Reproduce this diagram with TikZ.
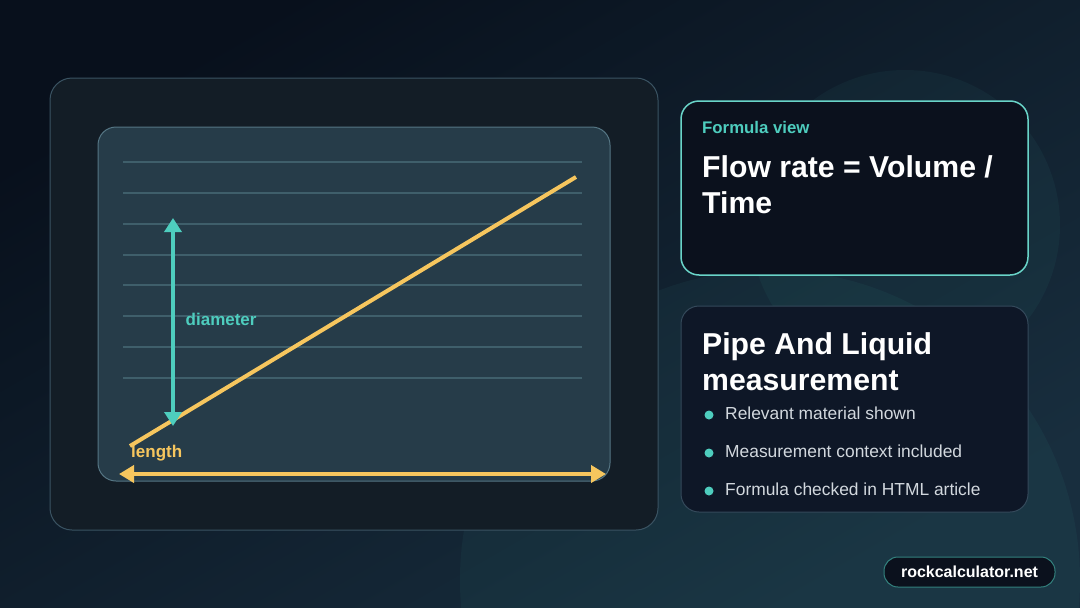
\documentclass[tikz,border=0pt]{standalone}
\usepackage{fontspec}
\setmainfont{Liberation Sans}
\usetikzlibrary{arrows.meta}
\definecolor{bgA}{HTML}{08101C}
\definecolor{bgB}{HTML}{182E3E}
\definecolor{panel}{HTML}{131D26}
\definecolor{panelline}{HTML}{3A5362}
\definecolor{inner}{HTML}{263C49}
\definecolor{innerline}{HTML}{557684}
\definecolor{grid}{HTML}{3F5F6B}
\definecolor{gold}{HTML}{F6C65E}
\definecolor{teal}{HTML}{4ECDBE}
\definecolor{card}{HTML}{0B111D}
\definecolor{cardB}{HTML}{0E1727}
\definecolor{cardline}{HTML}{34495A}
\definecolor{bodytxt}{HTML}{D2D8DE}
\tikzset{
  x=1pt,y=-1pt,
  gridline/.style={grid, line width=1.3pt},
  goldline/.style={gold, line width=4pt},
  tealarrow/.style={teal, line width=4pt, {Triangle[length=14pt,width=17pt]}-{Triangle[length=14pt,width=17pt]}},
  goldarrow/.style={gold, line width=4pt, {Triangle[length=15pt,width=17pt]}-{Triangle[length=15pt,width=17pt]}},
  lbl/.style={anchor=base west, inner sep=0pt, font=\fontsize{17}{20}\selectfont\bfseries},
  title/.style={anchor=base west, inner sep=0pt, text=white, font=\fontsize{30.2}{36}\selectfont\bfseries},
  bullettxt/.style={anchor=base west, inner sep=0pt, text=bodytxt, font=\fontsize{17.4}{20}\selectfont},
  dot/.style={circle, fill=teal, inner sep=0pt, minimum size=9pt},
}
\begin{document}
\begin{tikzpicture}
\useasboundingbox (0,0) rectangle (1080,608);
% background
\shade[top color=bgA, bottom color=bgB, shading angle=30] (0,0) rectangle (1080,608);
\begin{scope}
\clip (0,0) rectangle (1080,608);
\fill[teal, opacity=0.05] (905,225) circle (155);
\fill[teal, opacity=0.05] (770,580) circle (310);
\end{scope}
% main panel
\node[draw=panelline, fill=panel, line width=1pt, rounded corners=22pt, minimum width=608pt, minimum height=452pt, inner sep=0pt] (main) at (354,304) {};
\node[draw=innerline, fill=inner, line width=1pt, rounded corners=18pt, minimum width=512pt, minimum height=354pt, inner sep=0pt] (plot) at (354,304) {};
% grid lines
\foreach \y [count=\i] in {162,193,224,255,285,316,347,378} {
  \coordinate (gl\i) at (123,\y);
  \coordinate (gr\i) at (582,\y);
  \draw[gridline] (gl\i) -- (gr\i);
}
% yellow line
\coordinate (ys) at (130,446);
\coordinate (ye) at (576,177);
\draw[goldline] (ys) -- (ye);
% teal arrow
\coordinate (dt) at (173,218);
\coordinate (db) at (173,426);
\draw[tealarrow] (db) -- (dt);
\node[lbl, text=teal] (diam) at (185.5,325.5) {diameter};
% length arrow
\coordinate (la) at (119,474);
\coordinate (lb) at (606,474);
\draw[goldarrow] (la) -- (lb);
\node[lbl, text=gold] (len) at (131,457) {length};
% formula card
\node[draw=teal!85!white, fill=card, line width=1.5pt, rounded corners=18pt, minimum width=347pt, minimum height=174pt, inner sep=0pt] (fcard) at (854.5,188) {};
\node[lbl, text=teal, font=\fontsize{16.8}{20}\selectfont\bfseries] (fview) at (702,133) {Formula view};
\node[title] (f1) at (702,177) {Flow rate = Volume /};
\node[title] (f2) at (702,213) {Time};
% info card
\node[draw=cardline, fill=cardB, line width=1pt, rounded corners=18pt, minimum width=347pt, minimum height=206pt, inner sep=0pt] (icard) at (854.5,409) {};
\node[title] (p1) at (702,354) {Pipe And Liquid};
\node[title] (p2) at (702,390) {measurement};
\node[dot] (d1) at (709,415) {};
\node[dot] (d2) at (709,453) {};
\node[dot] (d3) at (709,491) {};
\node[bullettxt] (b1) at (725,419.5) {Relevant material shown};
\node[bullettxt] (b2) at (725,457.5) {Measurement context included};
\node[bullettxt] (b3) at (725,495.5) {Formula checked in HTML article};
% badge
\node[draw=teal!60!card, fill=card, line width=1pt, rounded corners=14pt, minimum width=171pt, minimum height=30pt, inner sep=0pt, text=white, font=\fontsize{16}{18}\selectfont\bfseries] (badge) at (969.5,572) {rockcalculator.net};
\end{tikzpicture}
\end{document}
